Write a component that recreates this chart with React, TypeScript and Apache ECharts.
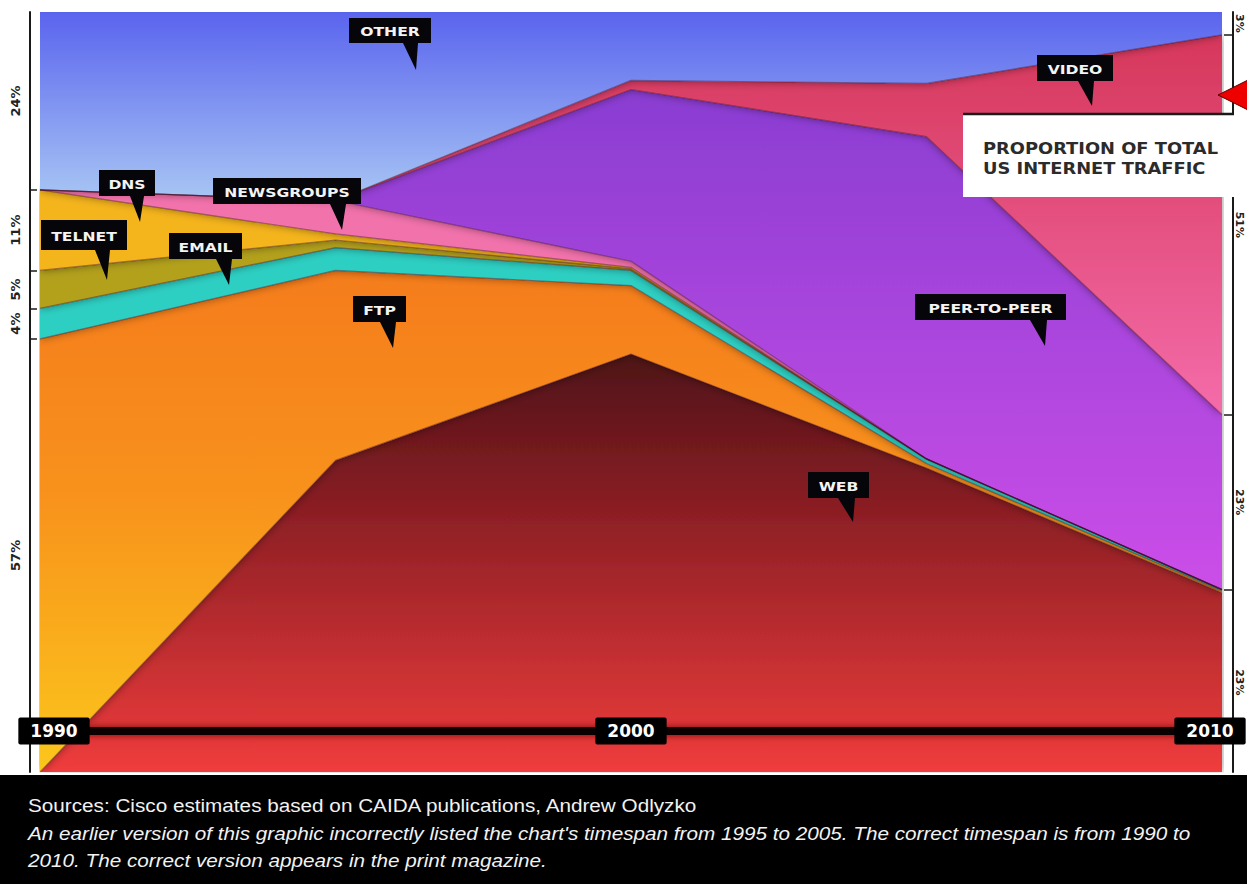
import React, { useEffect, useRef } from 'react';
import * as echarts from 'echarts';

// ---------- data ----------
const years = ['1990', '1995', '2000', '2005', '2010'];
const web = [0, 41, 55, 40, 23.6];
const ftp = [57, 25, 9, 0.6, 0.2];
const email = [4, 3, 2, 0.6, 0.2];
const telnet = [5, 1, 0.2, 0, 0];
const dns = [10.6, 0.8, 0.2, 0, 0];
const newsgroups = [0, 4.4, 0.8, 0, 0];
const peerToPeer = [0, 0, 22.6, 42.4, 23];
const video = [0, 0, 1.2, 7, 50];
const other = [23.4, 24.8, 9, 9.4, 3];

const leftAxisLabels = ['57%', '4%', '5%', '11%', '24%'];
const rightAxisLabels = ['23%', '23%', '51%', '3%'];

const sourceLine = 'Sources: Cisco estimates based on CAIDA publications, Andrew Odlyzko';
const noteLine1 =
  "An earlier version of this graphic incorrectly listed the chart's timespan from 1995 to 2005. The correct timespan is from 1990 to";
const noteLine2 = '2010. The correct version appears in the print magazine.';
const boxTitle = 'PROPORTION OF TOTAL\nUS INTERNET TRAFFIC';

const G = (y1: number, y2: number, stops: [number, string][]) =>
  new echarts.graphic.LinearGradient(
    0, y1, 0, y2,
    stops.map(([offset, color]) => ({ offset, color })),
    true
  );

const seriesDefs = [
  { name: 'WEB', data: web, fill: G(350, 772, [[0, '#4c1317'], [0.35, '#861d23'], [1, '#f03c3c']]) },
  { name: 'FTP', data: ftp, fill: G(270, 772, [[0, '#f57c1a'], [0.45, '#f8921f'], [1, '#fbc61c']]) },
  { name: 'EMAIL', data: email, fill: '#2fcfc3' },
  { name: 'TELNET', data: telnet, fill: '#b3a11e' },
  { name: 'DNS', data: dns, fill: '#f4b41f' },
  { name: 'NEWSGROUPS', data: newsgroups, fill: '#f272ac' },
  { name: 'PEER-TO-PEER', data: peerToPeer, fill: G(90, 590, [[0, '#8a3dd2'], [1, '#cc4ee8']]) },
  { name: 'VIDEO', data: video, fill: G(35, 415, [[0, '#d6375a'], [1, '#f46caa']]) },
  { name: 'OTHER', data: other, fill: G(12, 200, [[0, '#5a64ee'], [1, '#a8c6f4']]) },
];

// band midpoints and boundaries for a given column
function bandInfo(col: number) {
  let cum = 0;
  const mids: number[] = [];
  const bottoms: number[] = [];
  seriesDefs.forEach((s) => {
    const v = s.data[col];
    if (v >= 1) {
      mids.push(cum + v / 2);
      bottoms.push(cum);
    }
    cum += v;
  });
  return { mids, ticks: bottoms.slice(1) };
}

const callouts = [
  { text: 'OTHER', box: [349, 18, 82, 25], ptr: [[403, 43], [418, 43], [416, 70]] },
  { text: 'DNS', box: [99, 170, 56, 26], ptr: [[130, 196], [144, 196], [140, 222]] },
  { text: 'NEWSGROUPS', box: [213, 178, 148, 26], ptr: [[330, 204], [346, 204], [342, 230]] },
  { text: 'TELNET', box: [41, 220, 86, 30], ptr: [[95, 250], [110, 250], [107, 280]] },
  { text: 'EMAIL', box: [169, 233, 73, 26], ptr: [[216, 259], [232, 259], [229, 285]] },
  { text: 'FTP', box: [353, 296, 53, 26], ptr: [[380, 322], [396, 322], [393, 348]] },
  { text: 'VIDEO', box: [1037, 55, 76, 26], ptr: [[1078, 81], [1094, 81], [1092, 106]] },
  { text: 'PEER-TO-PEER', box: [915, 294, 151, 26], ptr: [[1030, 320], [1047, 320], [1045, 346]] },
  { text: 'WEB', box: [808, 472, 61, 26], ptr: [[838, 498], [855, 498], [853, 522]] },
];

export default function App() {
  const ref = useRef<HTMLDivElement>(null);
  useEffect(() => {
    if (!ref.current) return;
    const chart = echarts.init(ref.current, undefined, { renderer: 'svg' });

    const left = bandInfo(0);
    const right = bandInfo(years.length - 1);
    const labelFor = (mids: number[], labels: string[]) => (v: number) => {
      let best = 0;
      mids.forEach((m, i) => {
        if (Math.abs(m - v) < Math.abs(mids[best] - v)) best = i;
      });
      return labels[best];
    };

    const calloutGraphics = callouts.map((c) => ({
      type: 'group',
      z: 100,
      children: [
        { type: 'polygon', shape: { points: c.ptr }, style: { fill: '#05050a' }, z: 100 },
        {
          type: 'rect',
          shape: { x: c.box[0], y: c.box[1], width: c.box[2], height: c.box[3] },
          style: { fill: '#05050a' },
          z: 100,
        },
        {
          type: 'text',
          x: c.box[0] + c.box[2] / 2,
          y: c.box[1] + c.box[3] / 2 + 1,
          scaleX: 1.2,
          z: 101,
          style: {
            text: c.text,
            fill: '#f4f4f4',
            font: 'bold 13px "DejaVu Sans"',
            align: 'center',
            verticalAlign: 'middle',
          },
        },
      ],
    }));

    const option: any = {
      animation: false,
      backgroundColor: '#ffffff',
      grid: { left: 40, right: 25, top: 12, bottom: 112, containLabel: false, outerBoundsMode: 'none' },
      xAxis: {
        type: 'category',
        data: years,
        boundaryGap: false,
        position: 'bottom',
        offset: -41,
        z: 120,
        axisLine: { show: false, onZero: false },
        axisTick: { show: false },
        splitLine: { show: false },
        axisLabel: {
          show: true,
          interval: 1,
          margin: 0,
          verticalAlign: 'middle',
          formatter: (v: string, i: number) =>
            i === 0 ? `{s| }{b|${v}}` : i === years.length - 1 ? `{b|${v}}{e| }` : `{b|${v}}`,
          rich: {
            s: { width: 28 },
            e: { width: 24 },
            b: {
              color: '#ffffff',
              fontFamily: 'DejaVu Sans',
              fontWeight: 'bold',
              fontSize: 17,
              backgroundColor: '#000000',
              padding: [5, 12, 5, 12],
              borderRadius: 2,
            },
          },
        },
      },
      yAxis: [
        {
          type: 'value',
          min: 0,
          max: 100,
          position: 'left',
          offset: 10,
          z: 20,
          splitLine: { show: false },
          axisLine: { show: true, lineStyle: { color: '#1a1a1a', width: 2 } },
          axisTick: { show: true, inside: true, length: 7, customValues: left.ticks, lineStyle: { color: '#1a1a1a', width: 1.5 } },
          axisLabel: {
            show: true,
            customValues: left.mids,
            formatter: labelFor(left.mids, leftAxisLabels),
            rotate: 90,
            margin: 8,
            color: '#222',
            fontFamily: 'DejaVu Sans',
            fontWeight: 'bold',
            fontSize: 13,
          },
        },
        {
          type: 'value',
          min: 0,
          max: 100,
          position: 'right',
          offset: 11,
          z: 20,
          splitLine: { show: false },
          axisLine: { show: true, lineStyle: { color: '#1a1a1a', width: 2 } },
          axisTick: { show: true, inside: true, length: 9, customValues: right.ticks, lineStyle: { color: '#1a1a1a', width: 1.5 } },
          axisLabel: {
            show: true,
            customValues: right.mids,
            formatter: labelFor(right.mids, rightAxisLabels),
            rotate: -90,
            margin: 1,
            color: '#222',
            fontFamily: 'DejaVu Sans',
            fontWeight: 'bold',
            fontSize: 11,
          },
        },
      ],
      series: seriesDefs.map((s) => ({
        type: 'line',
        name: s.name,
        stack: 'total',
        data: s.data,
        symbol: 'none',
        yAxisIndex: 0,
        lineStyle: { width: s.name === 'OTHER' ? 0 : 1.2, color: 'rgba(60,0,25,0.4)' },
        areaStyle: {
          color: s.fill,
          opacity: 1,
          shadowColor: 'rgba(30,0,30,0.45)',
          shadowBlur: 8,
        },
      })),
      graphic: [
        // timeline bar behind year labels
        {
          type: 'rect',
          z: 90,
          shape: { x: 40, y: 727, width: 1182, height: 8 },
          style: { fill: '#0a0000', shadowColor: 'rgba(110,0,0,0.9)', shadowBlur: 7 },
        },
        // proportion box
        {
          type: 'line',
          z: 100,
          shape: { x1: 1233, y1: 12, x2: 1233, y2: 114 },
          style: { stroke: '#1a1a1a', lineWidth: 2 },
        },
        {
          type: 'rect',
          z: 100,
          shape: { x: 963, y: 115, width: 280, height: 82 },
          style: { fill: '#ffffff' },
        },
        {
          type: 'line',
          z: 101,
          shape: { x1: 963, y1: 114, x2: 1234, y2: 114 },
          style: { stroke: '#1a1a1a', lineWidth: 2.5 },
        },
        {
          type: 'text',
          z: 101,
          x: 983,
          y: 159,
          scaleX: 1.19,
          style: {
            text: boxTitle,
            fill: '#2b2b2b',
            font: 'bold 15px "DejaVu Sans"',
            lineHeight: 21,
            align: 'left',
            verticalAlign: 'middle',
          },
        },
        // red arrow
        {
          type: 'polygon',
          z: 102,
          shape: { points: [[1218, 95], [1250, 79], [1250, 111]] },
          style: { fill: '#ee0000', stroke: '#550000', lineWidth: 1 },
        },
        ...calloutGraphics,
        // bottom black bar
        {
          type: 'rect',
          z: 100,
          shape: { x: 0, y: 775, width: 1247, height: 109 },
          style: { fill: '#000000' },
        },
        {
          type: 'text',
          z: 101,
          x: 28,
          y: 805,
          scaleX: 1.09,
          style: { text: sourceLine, fill: '#f2f2f2', font: '19px "Liberation Sans"', verticalAlign: 'middle' },
        },
        {
          type: 'text',
          z: 101,
          x: 28,
          y: 833,
          scaleX: 1.09,
          style: { text: noteLine1, fill: '#f2f2f2', font: 'italic 19px "Liberation Sans"', verticalAlign: 'middle' },
        },
        {
          type: 'text',
          z: 101,
          x: 28,
          y: 860,
          scaleX: 1.09,
          style: { text: noteLine2, fill: '#f2f2f2', font: 'italic 19px "Liberation Sans"', verticalAlign: 'middle' },
        },
      ],
    };
    chart.setOption(option);
    return () => chart.dispose();
  }, []);
  return (
    <div
      ref={ref}
      style={{ position: 'absolute', left: 0, top: 0, width: 1247, height: 884 }}
    />
  );
}
